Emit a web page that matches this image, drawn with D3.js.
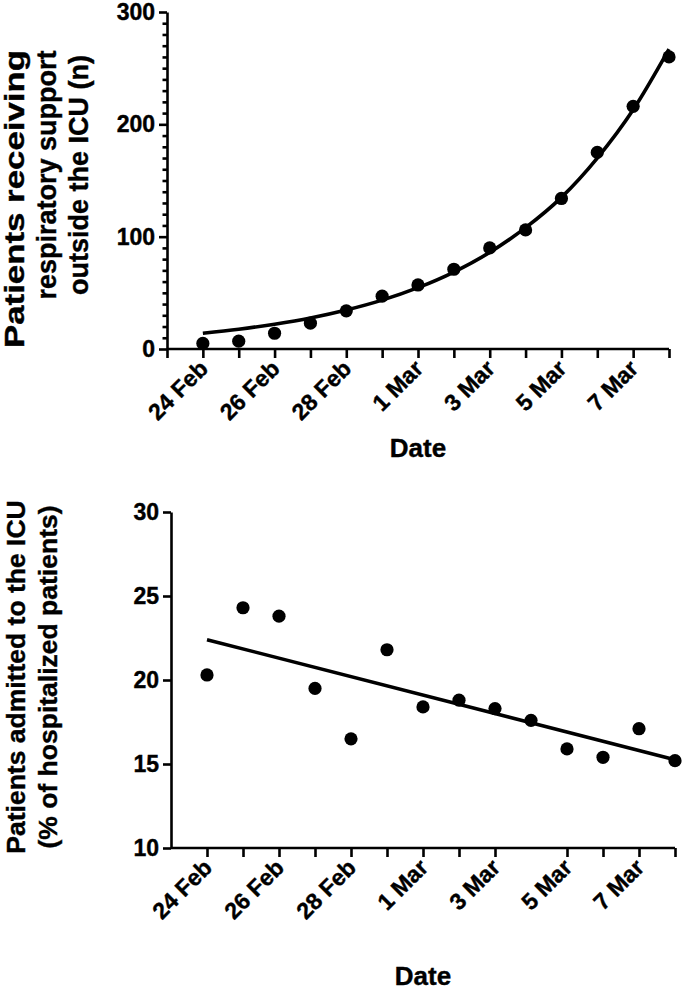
<!DOCTYPE html>
<html>
<head>
<meta charset="utf-8">
<script src="https://cdn.jsdelivr.net/npm/d3@7"></script>
<style>
  html, body { margin: 0; padding: 0; background: #fff; }
  svg { display: block; }
  text { font-family: "Liberation Sans", Arial, Helvetica, sans-serif; font-weight: bold; fill: #000; stroke: #000; stroke-width: 0.4px; }
</style>
</head>
<body>
<div id="chart"></div>
<script>
// ---------- data ----------
const dates = ["2020-02-24","2020-02-25","2020-02-26","2020-02-27","2020-02-28","2020-02-29",
               "2020-03-01","2020-03-02","2020-03-03","2020-03-04","2020-03-05","2020-03-06",
               "2020-03-07","2020-03-08"];
const respiratorySupport = [5, 7, 14, 23, 34, 47, 57, 71, 90, 106, 134, 175, 216, 260];
const respiratoryFit = [14, 17.6, 22.1, 27.6, 34.7, 43.5, 54.6, 68.5, 86, 108, 135, 170, 213, 267];
const icuPercent = [20.3, 24.3, 23.8, 19.5, 16.5, 21.8, 18.4, 18.8, 18.3, 17.6, 15.9, 15.4, 17.1, 15.2];
const icuFitDates = ["2020-02-24", "2020-03-08"];
const icuFit = [22.4, 15.25];

const xDomain = ["2020-02-23", "2020-03-08"];
const xLabelDates = ["2020-02-24","2020-02-26","2020-02-28","2020-03-01","2020-03-03","2020-03-05","2020-03-07"];
const topYTicks = [0, 100, 200, 300];
const bottomYTicks = [10, 15, 20, 25, 30];
const topTitle = ["Patients receiving", "respiratory support", "outside the ICU (n)"];
const bottomTitle = ["Patients admitted to the ICU", "(% of hospitalized patients)"];
const xTitle = "Date";

// ---------- setup ----------
const W = 685, H = 991;
const parse = d3.utcParse("%Y-%m-%d");
const key = d3.utcFormat("%Y-%m-%d");
const fmt = d3.utcFormat("%-d %b");
const svg = d3.select("#chart").append("svg").attr("width", W).attr("height", H);

const FS = 23;
const axisW = 2.6;
const labelKeys = new Set(xLabelDates);

function drawPanel(opt) {
  const g = svg.append("g");
  const x = d3.scaleUtc().domain(xDomain.map(parse)).range([opt.left, opt.right]);
  const y = d3.scaleLinear().domain(opt.yDomain).range([opt.bottom, opt.top]);

  // x axis
  const allDays = d3.utcDay.range(parse(xDomain[0]), d3.utcDay.offset(parse(xDomain[1]), 1));
  const xTickVals = allDays.filter(opt.xTickFilter);
  const xAxis = d3.axisBottom(x).tickValues(xTickVals).tickSize(9).tickSizeOuter(0)
    .tickFormat(d => labelKeys.has(key(d)) ? fmt(d) : "");
  const gx = g.append("g").attr("transform", `translate(0,${opt.bottom})`).call(xAxis);
  gx.select(".domain").attr("stroke-width", axisW).attr("d", `M${opt.left},0H${opt.right}`);
  gx.selectAll(".tick line").attr("stroke-width", axisW);
  gx.selectAll(".tick text")
    .attr("font-size", FS).attr("font-family", null)
    .attr("y", 0).attr("dy", 0).attr("x", 0)
    .attr("text-anchor", "end")
    .attr("transform", "translate(6,21) rotate(-45)");

  // y axis
  const yAxis = d3.axisLeft(y).tickValues(opt.yTicks).tickSize(8).tickPadding(4).tickSizeOuter(0);
  const gy = g.append("g").attr("transform", `translate(${opt.left},0)`).call(yAxis);
  gy.select(".domain").attr("stroke-width", axisW);
  gy.selectAll(".tick line").attr("stroke-width", axisW);
  gy.selectAll(".tick text").attr("font-size", FS).attr("font-family", null);

  if (opt.minorStep) {
    const minor = y.ticks((opt.yDomain[1] - opt.yDomain[0]) / opt.minorStep)
      .filter(v => !opt.yTicks.includes(v));
    const gm = g.append("g").attr("transform", `translate(${opt.left},0)`)
      .call(d3.axisLeft(y).tickValues(minor).tickSize(4.5).tickFormat("").tickSizeOuter(0));
    gm.select(".domain").remove();
    gm.selectAll(".tick line").attr("stroke-width", axisW);
  }

  // y title (one text element per line, rotated)
  opt.title.forEach((t, i) => {
    const cy = opt.titleCenters ? opt.titleCenters[i] : opt.titleY;
    const el = g.append("text")
      .attr("transform", `translate(${opt.titleBase[i]},${cy}) rotate(-90)`)
      .attr("text-anchor", "middle").attr("font-size", opt.titleFS).text(t);
    if (opt.titleLengths && opt.titleLengths[i]) {
      el.attr("textLength", opt.titleLengths[i]).attr("lengthAdjust", "spacingAndGlyphs");
    }
  });

  // x title
  g.append("text").attr("x", (opt.left + opt.right) / 2).attr("y", opt.xTitleY)
    .attr("text-anchor", "middle").attr("font-size", 26).text(xTitle);

  return { g, x, y };
}

// ---------- top panel ----------
const panelA = drawPanel({
  left: 167, right: 669, top: 12, bottom: 349,
  yDomain: [0, 300], yTicks: topYTicks, minorStep: 10,
  xTickFilter: d => true,
  title: topTitle, titleCenters: [199, 175, 175], titleLengths: [298, 0, 0],
  titleBase: [24, 56, 88], titleFS: 27,
  xTitleY: 457
});
panelA.g.append("path")
  .datum(dates.map((d, i) => [parse(d), respiratoryFit[i]]))
  .attr("fill", "none").attr("stroke", "#000").attr("stroke-width", 3.6)
  .attr("d", d3.line().x(d => panelA.x(d[0])).y(d => panelA.y(d[1])).curve(d3.curveMonotoneX));
panelA.g.append("g").selectAll("circle")
  .data(dates.map((d, i) => [parse(d), respiratorySupport[i]]))
  .join("circle")
  .attr("cx", d => panelA.x(d[0])).attr("cy", d => panelA.y(d[1])).attr("r", 6.6).attr("fill", "#000");

// ---------- bottom panel ----------
const panelB = drawPanel({
  left: 171, right: 675, top: 512, bottom: 848,
  yDomain: [10, 30], yTicks: bottomYTicks, minorStep: 0,
  xTickFilter: d => key(d) !== "2020-02-23" && key(d) !== "2020-03-04",
  title: bottomTitle, titleY: 677, titleBase: [25, 57], titleFS: 26.5,
  xTitleY: 985
});
panelB.g.append("path")
  .datum(icuFitDates.map((d, i) => [parse(d), icuFit[i]]))
  .attr("fill", "none").attr("stroke", "#000").attr("stroke-width", 3.6)
  .attr("d", d3.line().x(d => panelB.x(d[0])).y(d => panelB.y(d[1])));
panelB.g.append("g").selectAll("circle")
  .data(dates.map((d, i) => [parse(d), icuPercent[i]]))
  .join("circle")
  .attr("cx", d => panelB.x(d[0])).attr("cy", d => panelB.y(d[1])).attr("r", 6.6).attr("fill", "#000");
</script>
</body>
</html>
